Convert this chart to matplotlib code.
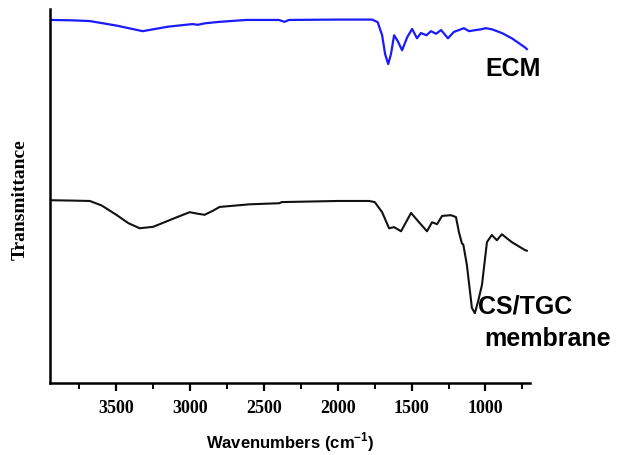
import matplotlib.pyplot as plt
from matplotlib.ticker import MultipleLocator

# ECM spectrum (wavenumber, transmittance a.u.)
ecm_wn = [3950, 3800, 3680, 3500, 3322, 3150, 2984, 2950, 2900, 2800, 2620, 2400,
          2362, 2330, 2000, 1768, 1730, 1700, 1680, 1659, 1640, 1619, 1595, 1565,
          1530, 1497, 1464, 1437, 1400, 1369, 1335, 1301, 1254, 1214, 1180, 1146,
          1112, 1065, 1030, 997, 957, 889, 822, 734, 720]
ecm_t = [97.1, 97.0, 96.8, 95.6, 94.1, 95.3, 96.0, 95.8, 96.2, 96.6, 97.1, 97.1,
         96.6, 97.1, 97.2, 97.2, 96.5, 93.0, 88.0, 85.3, 88.0, 93.0, 91.5, 89.0,
         92.5, 94.7, 92.2, 93.6, 93.0, 94.1, 93.4, 94.4, 92.2, 93.9, 94.4, 94.9,
         94.1, 94.4, 94.6, 94.9, 94.6, 93.6, 92.2, 89.8, 89.3]

# CS/TGC membrane spectrum
cs_wn = [3950, 3800, 3680, 3600, 3500, 3420, 3342, 3250, 3100, 3004, 2950, 2903,
         2850, 2801, 2600, 2396, 2380, 2000, 1788, 1750, 1700, 1653, 1619, 1572,
         1504, 1450, 1396, 1362, 1328, 1294, 1234, 1200, 1180, 1160, 1150, 1126,
         1092, 1072, 1051, 1024, 990, 957, 923, 889, 822, 734, 720]
cs_t = [48.9, 48.8, 48.7, 47.5, 45.0, 42.8, 41.4, 41.8, 44.2, 45.7, 45.3, 45.0,
        46.0, 47.1, 47.8, 48.1, 48.4, 48.7, 48.7, 48.4, 45.7, 41.4, 41.7, 40.6,
        45.5, 43.0, 40.6, 43.0, 42.5, 44.7, 44.9, 44.4, 40.4, 37.4, 37.0, 31.6,
        20.1, 18.7, 21.7, 26.2, 37.7, 39.6, 38.2, 39.8, 37.7, 35.6, 35.4]

fig = plt.figure(figsize=(6.24, 4.55), dpi=100)
ax = fig.add_axes([0.080, 0.158, 0.769, 0.822])

ax.plot(ecm_wn, ecm_t, color='#1a1aff', linewidth=1.6)
ax.plot(cs_wn, cs_t, color='#111111', linewidth=1.5)

ax.set_xlim(3950, 700)
ax.set_ylim(0, 100)

# axes look
for s in ['top', 'right']:
    ax.spines[s].set_visible(False)
ax.spines['left'].set_linewidth(1.8)
ax.spines['bottom'].set_linewidth(1.8)
ax.set_yticks([])
ax.xaxis.set_major_locator(MultipleLocator(500))
ax.xaxis.set_minor_locator(MultipleLocator(250))
ax.tick_params(axis='x', which='major', direction='out', length=6, width=1.6, pad=6)
ax.tick_params(axis='x', which='minor', direction='out', length=4, width=1.4)
for lab in ax.get_xticklabels():
    lab.set_fontfamily('Liberation Serif')
    lab.set_fontweight('bold')
    lab.set_fontsize(13)

ax.set_xlabel('Wavenumbers (cm$^{\\mathregular{-1}}$)', fontfamily='Liberation Sans',
              fontweight='bold', fontsize=12, labelpad=10)
ax.set_ylabel('Transmittance', fontfamily='Liberation Serif', fontweight='bold',
              fontsize=14)
ax.yaxis.set_label_coords(-0.045, 0.49)

# curve labels
ax.text(1000, 84, 'ECM', fontfamily='Liberation Sans', fontweight='bold',
        fontsize=18, ha='left', va='center', clip_on=False)
ax.text(1052, 20.4, 'CS/TGC', fontfamily='Liberation Sans', fontweight='bold',
        fontsize=18, ha='left', va='center', clip_on=False)
ax.text(1011, 11.8, 'membrane', fontfamily='Liberation Sans', fontweight='bold',
        fontsize=18, ha='left', va='center', clip_on=False)

plt.savefig('out.png', dpi=100)
